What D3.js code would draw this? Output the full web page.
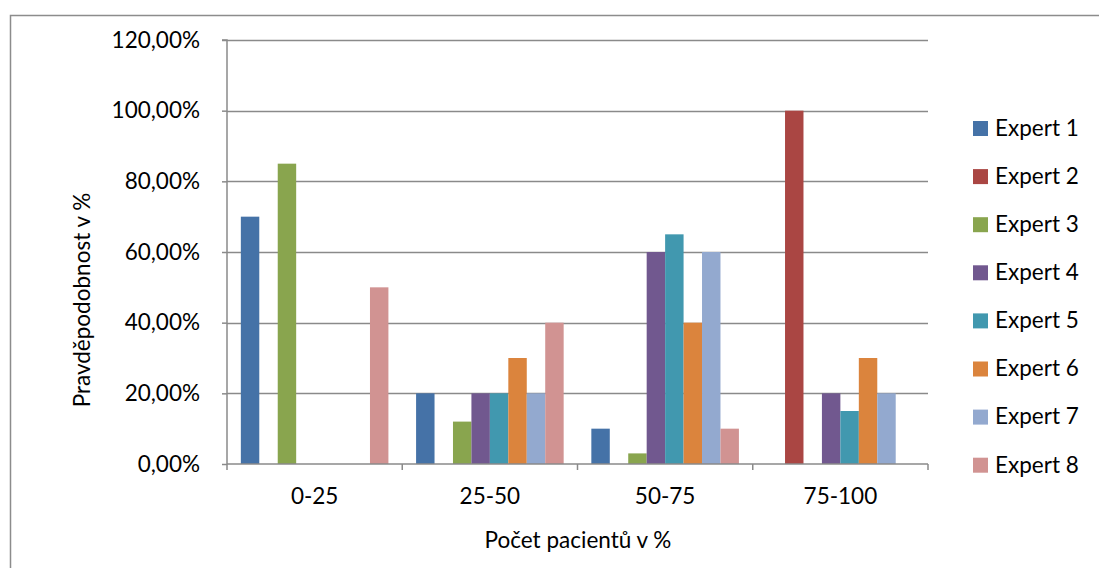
<!DOCTYPE html>
<html>
<head>
<meta charset="utf-8">
<script src="https://cdn.jsdelivr.net/npm/d3@7"></script>
<style>
  html, body { margin: 0; padding: 0; background: #fff; }
  svg { display: block; font-family: Lato, "Open Sans", sans-serif; }
</style>
</head>
<body>
<svg id="chart" width="1099" height="568"></svg>
<script>
// Categories (share of patients) and the probability each expert assigned
const categories = ["0-25", "25-50", "50-75", "75-100"];
const seriesNames = ["Expert 1", "Expert 2", "Expert 3", "Expert 4", "Expert 5", "Expert 6", "Expert 7", "Expert 8"];
const expert1 = [0.70, 0.20, 0.10, 0.00];
const expert2 = [0.00, 0.00, 0.00, 1.00];
const expert3 = [0.85, 0.12, 0.03, 0.00];
const expert4 = [0.00, 0.20, 0.60, 0.20];
const expert5 = [0.00, 0.20, 0.65, 0.15];
const expert6 = [0.00, 0.30, 0.40, 0.30];
const expert7 = [0.00, 0.20, 0.60, 0.20];
const expert8 = [0.50, 0.40, 0.10, 0.00];
const yTicks = [0, 0.2, 0.4, 0.6, 0.8, 1.0, 1.2];
const colors = ["#4572a7", "#aa4643", "#89a54e", "#71588f", "#4198af", "#db843d", "#93a9cf", "#d19392"];

const seriesValues = [expert1, expert2, expert3, expert4, expert5, expert6, expert7, expert8];

const FS = 22.5;
const svg = d3.select("#chart");
const plot = { left: 227, right: 928, top: 40, bottom: 464 };

// Outer chart frame
svg.append("rect")
  .attr("x", 10.5).attr("y", 15.5)
  .attr("width", 1100).attr("height", 600)
  .attr("fill", "none").attr("stroke", "#8c8c8c").attr("stroke-width", 1.5);

const x0 = d3.scaleBand().domain(categories).range([plot.left, plot.right]).paddingInner(0).paddingOuter(0);
// Excel-style gap: 150% of a bar width shared across both sides of each group
const x1 = d3.scaleBand().domain(seriesNames).range([0, x0.bandwidth()]).paddingInner(0).paddingOuter(0.75);
const y = d3.scaleLinear().domain([0, 1.2]).range([plot.bottom, plot.top]);

const fmt = v => d3.format(".2f")(v * 100).replace(".", ",") + "%";

// Horizontal gridlines
svg.append("g").selectAll("line").data(yTicks.filter(t => t > 0)).join("line")
  .attr("x1", plot.left).attr("x2", plot.right)
  .attr("y1", d => Math.round(y(d)) + 0.5).attr("y2", d => Math.round(y(d)) + 0.5)
  .attr("stroke", "#8a8a8a").attr("stroke-width", 1.5);

// Bars
const groups = svg.append("g").selectAll("g").data(categories).join("g")
  .attr("transform", c => `translate(${x0(c)},0)`);
groups.selectAll("rect")
  .data((c, ci) => seriesNames.map((s, si) => ({ s, si, v: seriesValues[si][ci] })))
  .join("rect")
  .attr("x", d => x1(d.s))
  .attr("width", x1.bandwidth())
  .attr("y", d => y(d.v))
  .attr("height", d => y(0) - y(d.v))
  .attr("fill", d => colors[d.si]);

// Y axis
const yAxis = d3.axisLeft(y).tickValues(yTicks).tickFormat(fmt).tickSize(5).tickPadding(22);
const gy = svg.append("g").attr("transform", `translate(${plot.left},0)`).call(yAxis);
gy.select(".domain").attr("stroke", "#8a8a8a").attr("stroke-width", 1.5).attr("d", `M-5,${plot.top}H0V${plot.bottom}`);
gy.selectAll(".tick line").attr("stroke", "#8a8a8a").attr("stroke-width", 1.5);
gy.selectAll(".tick text").attr("font-size", FS).attr("font-family", "Lato, sans-serif").attr("fill", "#000");

// X axis
const xAxis = d3.axisBottom(x0).tickSize(0).tickPadding(24);
const gx = svg.append("g").attr("transform", `translate(0,${plot.bottom})`).call(xAxis);
gx.select(".domain").attr("stroke", "#8a8a8a").attr("stroke-width", 1.5).attr("d", `M${plot.left},0H${plot.right}`);
gx.selectAll(".tick text").attr("font-size", FS).attr("font-family", "Lato, sans-serif").attr("fill", "#000");
// Category boundary ticks
gx.append("g").selectAll("line")
  .data(categories.map(c => x0(c)).concat([plot.right]))
  .join("line")
  .attr("x1", d => d).attr("x2", d => d)
  .attr("y1", 0).attr("y2", 6)
  .attr("stroke", "#8a8a8a").attr("stroke-width", 1.5);

// Axis titles
svg.append("text")
  .attr("x", 578).attr("y", 548)
  .attr("text-anchor", "middle").attr("font-size", FS).attr("fill", "#000")
  .text("Počet pacientů v %");
svg.append("text")
  .attr("transform", `translate(90,300) rotate(-90)`)
  .attr("text-anchor", "middle").attr("font-size", FS).attr("fill", "#000")
  .text("Pravděpodobnost v %");

// Legend
const legend = svg.append("g").selectAll("g").data(seriesNames).join("g")
  .attr("transform", (d, i) => `translate(973,${128 + i * 48.1})`);
legend.append("rect")
  .attr("x", 0).attr("y", -7).attr("width", 15).attr("height", 15)
  .attr("fill", (d, i) => colors[i]);
legend.append("text")
  .attr("x", 22).attr("y", 0).attr("dy", "0.35em")
  .attr("font-size", FS).attr("fill", "#000")
  .text(d => d);
</script>
</body>
</html>
